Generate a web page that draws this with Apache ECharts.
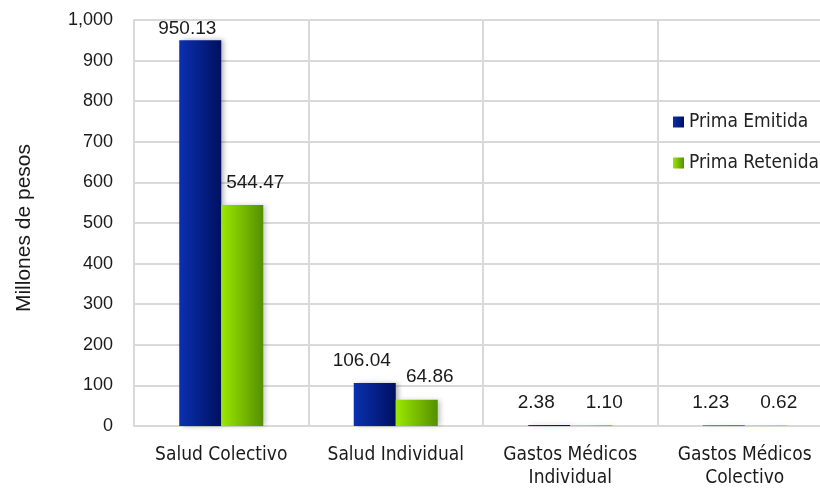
<!DOCTYPE html>
<html><head><meta charset="utf-8">
<script src="https://cdn.jsdelivr.net/npm/echarts@6/dist/echarts.min.js"></script>
<style>html,body{margin:0;padding:0;background:#fff}#c{width:820px;height:489px}</style>
</head><body><div id="c"></div>
<script>
const categories = ['Salud Colectivo', 'Salud Individual', 'Gastos Médicos\nIndividual', 'Gastos Médicos\nColectivo'];
const primaEmitida = [950.13, 106.04, 2.38, 1.23];
const primaRetenida = [544.47, 64.86, 1.10, 0.62];
const yTicks = [0, 100, 200, 300, 400, 500, 600, 700, 800, 900, 1000];

const NARROW = "'DejaVu Sans Condensed', 'Liberation Sans Narrow', sans-serif";
const ARIAL = "'Liberation Sans', Arial, sans-serif";
const chart = echarts.init(document.getElementById('c'));
const blue = new echarts.graphic.LinearGradient(0,0,1,0,[{offset:0,color:'#0a30b0'},{offset:1,color:'#001060'}]);
const green = new echarts.graphic.LinearGradient(0,0,1,0,[{offset:0,color:'#9be800'},{offset:1,color:'#558f00'}]);
function lbl(dx){
  return {show:true, position:'top', distance:13, offset:[dx,0], color:'#1a1a1a', fontSize:19, fontFamily:ARIAL,
    formatter:p=>p.value.toFixed(2)};
}
chart.setOption({
  animation:false,
  textStyle:{fontFamily:ARIAL},
  grid:{left:134, top:20, width:698, height:406, outerBoundsMode:'none', containLabel:false},
  legend:{
    data:['Prima Emitida','Prima Retenida'], orient:'vertical', left:668, top:107,
    itemWidth:11, itemHeight:11, itemGap:21, icon:'rect',
    textStyle:{fontSize:19, lineHeight:20, color:'#222', fontFamily:NARROW}
  },
  xAxis:{
    type:'category', data:categories,
    axisLine:{show:true, lineStyle:{color:'#d9d9d9', width:2}},
    axisTick:{show:false, interval:0},
    splitLine:{show:true, interval:0, lineStyle:{color:'#d9d9d9', width:2}},
    axisLabel:{interval:0, hideOverlap:false, fontSize:19, color:'#1a1a1a', margin:18, lineHeight:23, fontFamily:NARROW}
  },
  yAxis:{
    type:'value', min:0, max:1000, interval:100,
    name:'Millones de pesos', nameLocation:'middle', nameGap:99, nameRotate:90,
    nameTextStyle:{fontSize:21, color:'#1a1a1a', fontFamily:ARIAL, padding:[0,10,0,0]},
    axisLine:{show:true, lineStyle:{color:'#d9d9d9', width:2}},
    axisTick:{show:false},
    splitLine:{show:true, lineStyle:{color:'#d9d9d9', width:2}},
    axisLabel:{fontSize:18, color:'#1a1a1a', margin:21, fontFamily:ARIAL,
      formatter:v=>yTicks.includes(v)?v.toLocaleString('en-US'):''}
  },
  series:[
    {name:'Prima Emitida', type:'bar', barWidth:42, barGap:'0%',
      data:primaEmitida.map((v,i)=> i===0 ? {value:v, label:{distance:2}} : v),
      itemStyle:{color:blue, shadowColor:'rgba(0,0,0,0.3)', shadowBlur:5, shadowOffsetX:3}, label:lbl(-13)},
    {name:'Prima Retenida', type:'bar', barWidth:42, barGap:'0%', data:primaRetenida,
      itemStyle:{color:green, shadowColor:'rgba(0,0,0,0.22)', shadowBlur:5, shadowOffsetX:3}, label:lbl(13)}
  ]
});
</script></body></html>
